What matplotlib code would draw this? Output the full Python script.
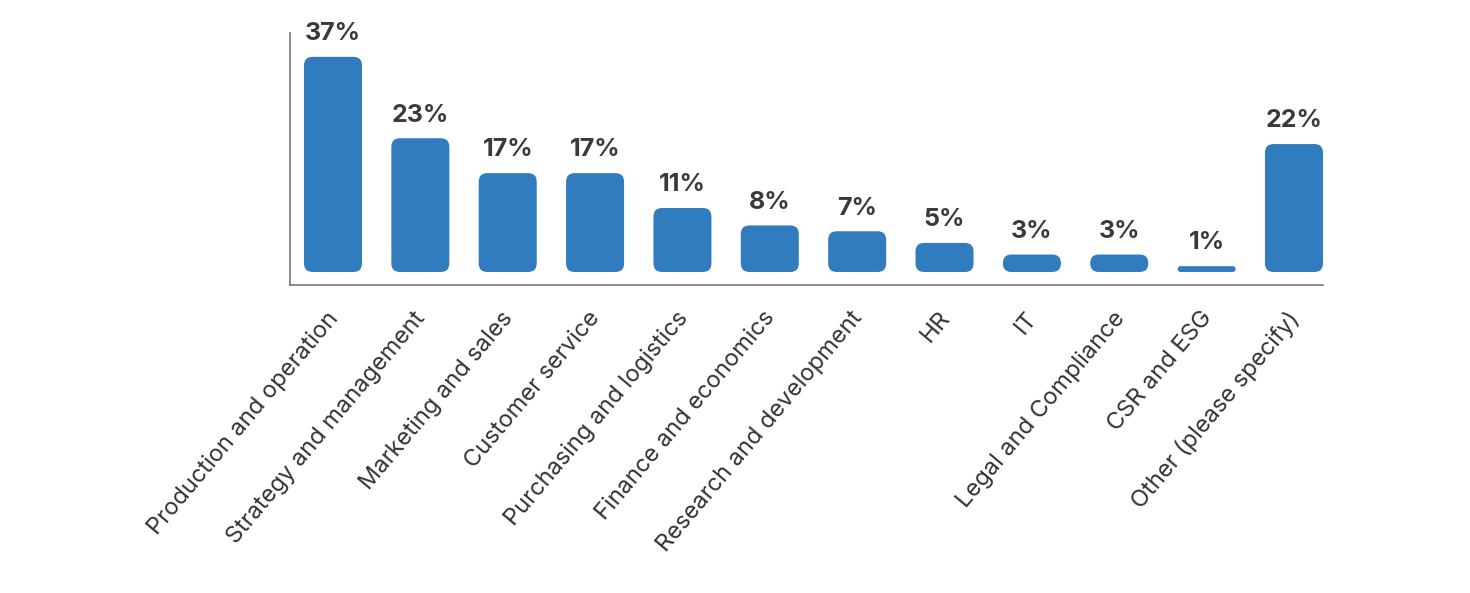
import matplotlib
matplotlib.use("Agg")
import matplotlib.pyplot as plt
import matplotlib.transforms as mtransforms
from matplotlib.patches import FancyBboxPatch

categories = ["Production and operation", "Strategy and management", "Marketing and sales",
              "Customer service", "Purchasing and logistics", "Finance and economics",
              "Research and development", "HR", "IT", "Legal and Compliance",
              "CSR and ESG", "Other (please specify)"]
values = [37, 23, 17, 17, 11, 8, 7, 5, 3, 3, 1, 22]
value_labels = ["37%", "23%", "17%", "17%", "11%", "8%", "7%", "5%", "3%", "3%", "1%", "22%"]

plt.rcParams['font.family'] = ['Inter', 'DejaVu Sans']

W, H, DPI = 1470, 593, 100
fig = plt.figure(figsize=(W / DPI, H / DPI), dpi=DPI)
ax_l, ax_r, ax_b, ax_t = 290, 1323, 285, 33
ax = fig.add_axes([ax_l / W, (H - ax_b) / H, (ax_r - ax_l) / W, (ax_b - ax_t) / H])

ylo, yhi = -2.24, 41.1
xlo, xhi = -0.492, 11.332
ax.set_xlim(xlo, xhi)
ax.set_ylim(ylo, yhi)

bar_color = "#317BBF"
width = 0.664
px_x = (ax_r - ax_l) / (xhi - xlo)   # px per x unit
px_y = (ax_b - ax_t) / (yhi - ylo)   # px per y unit
r_px = 8.5
for i, v in enumerate(values):
    h_px = v * px_y
    w_px = width * px_x
    rr = min(r_px, h_px / 2, w_px / 2)
    patch = FancyBboxPatch((i - width / 2, 0), width, v,
                           boxstyle=f"round,pad=0,rounding_size={rr / px_x}",
                           mutation_aspect=px_x / px_y,
                           facecolor=bar_color, edgecolor="none")
    ax.add_patch(patch)
    ax.annotate(value_labels[i], (i, v), xytext=(0, 12), textcoords="offset points",
                ha="center", va="baseline", fontsize=18, fontweight="bold", color="#3a3a3a")

ax.set_xticks(range(len(categories)))
ax.set_xticklabels(categories, rotation=50, ha="right", va="top", rotation_mode="anchor",
                   fontsize=17, color="#333333")
ax.tick_params(axis="x", length=0, pad=16)
offset = mtransforms.ScaledTranslation(-7 / DPI, 0, fig.dpi_scale_trans)
for lbl in ax.get_xticklabels():
    lbl.set_transform(lbl.get_transform() + offset)
ax.set_yticks([])
for s in ["top", "right"]:
    ax.spines[s].set_visible(False)
for s in ["left", "bottom"]:
    ax.spines[s].set_color("#777777")
    ax.spines[s].set_linewidth(1.2)

fig.savefig("out.png", dpi=DPI)
